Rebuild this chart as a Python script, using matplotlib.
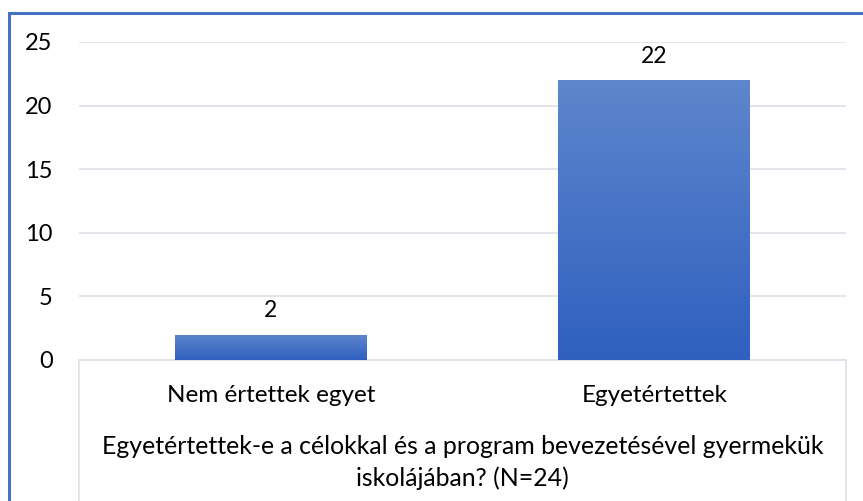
import matplotlib
matplotlib.use("Agg")
import matplotlib.pyplot as plt
import numpy as np
from matplotlib.lines import Line2D
from matplotlib.patches import Rectangle
from matplotlib.colors import LinearSegmentedColormap

categories = ["Nem értettek egyet", "Egyetértettek"]
values = [2, 22]
yticks = [0, 5, 10, 15, 20, 25]
axis_title_lines = ["Egyetértettek-e a célokkal és a program bevezetésével gyermekük",
                    "iskolájában? (N=24)"]

plt.rcParams['font.family'] = ['Lato', 'DejaVu Sans']

W, H = 863, 501
fig = plt.figure(figsize=(W / 100, H / 100), dpi=100)

def fx(px):
    return px / W

def fy(py):
    return 1 - py / H

ax = fig.add_axes([fx(79), fy(360), fx(846) - fx(79), fy(42) - fy(360)])
x = np.arange(len(categories))
bars = ax.bar(x, values, width=0.5, color="#4472c4", zorder=2)

grad = np.linspace(0, 1, 256).reshape(-1, 1)
cmap = LinearSegmentedColormap.from_list("g", ["#2f60bf", "#5f86cd"])
for b in bars:
    im = ax.imshow(grad, cmap=cmap, aspect="auto", origin="lower",
                   extent=[b.get_x(), b.get_x() + b.get_width(), 0, b.get_height()],
                   zorder=3)
    im.set_clip_path(b)

for xi, v in zip(x, values):
    ax.annotate(str(v), (xi, v), xytext=(0, 17), textcoords="offset points",
                ha="center", va="center", fontsize=16.5, color="#000000")

ax.set_xlim(-0.5, len(categories) - 0.5)
ax.set_ylim(0, 25)
ax.set_yticks(yticks)
ax.set_yticklabels([str(t) for t in yticks], fontsize=17)
ax.tick_params(axis="y", length=0, pad=19)
ax.set_xticks([])
ax.grid(axis="y", color="#dfe3ea", linewidth=1.3, zorder=0)
ax.set_axisbelow(True)
for s in ["top", "right", "left"]:
    ax.spines[s].set_visible(False)
ax.spines["bottom"].set_color("#dfe3ea")
ax.spines["bottom"].set_linewidth(1.3)

for px in [79, 846]:
    fig.add_artist(Line2D([fx(px), fx(px)], [fy(360), 0], color="#dfe3ea", lw=1.3))

for i, c in enumerate(categories):
    cx = 79 + (i + 0.5) * (846 - 79) / len(categories)
    fig.text(fx(cx), fy(395), c, ha="center", va="center", fontsize=17.5)

for line, py in zip(axis_title_lines, [447, 478]):
    fig.text(fx(462.5), fy(py), line, ha="center", va="center", fontsize=17.9)

fig.add_artist(Rectangle((fx(9), -0.1), 1.2, fy(13) + 0.1, fill=False,
                         edgecolor="#4472c4", lw=2.2, transform=fig.transFigure))

fig.savefig("out.png", dpi=100)
